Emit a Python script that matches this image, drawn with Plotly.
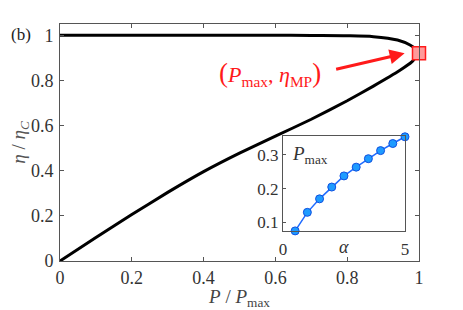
import plotly.graph_objects as go

# Main loop: lower branch (P/Pmax, eta/etaC)
lower_p = [0.0, 0.1, 0.2, 0.3, 0.4, 0.5, 0.6, 0.7, 0.8, 0.873, 0.947, 0.98, 1.0]
lower_eta = [0.0, 0.104, 0.206, 0.304, 0.396, 0.478, 0.553, 0.628, 0.71, 0.775, 0.845, 0.882, 0.92]
# upper branch
upper_p = [0.0, 0.2, 0.4, 0.6, 0.7, 0.8, 0.873, 0.94, 0.975, 0.994, 1.0]
upper_eta = [1.0, 1.0, 1.0, 1.0, 0.999, 0.998, 0.994, 0.979, 0.957, 0.935, 0.92]
# max-power point
mp_p = [1.0]
mp_eta = [0.92]
# inset: Pmax vs alpha
alpha = [0.5, 1.0, 1.5, 2.0, 2.5, 3.0, 3.5, 4.0, 4.5, 5.0]
pmax = [0.075, 0.130, 0.170, 0.205, 0.238, 0.264, 0.289, 0.313, 0.334, 0.354]

main_ticks = [0, 0.2, 0.4, 0.6, 0.8, 1]
main_ticktext = ["0", "0.2", "0.4", "0.6", "0.8", "1"]
inset_yticks = [0.1, 0.2, 0.3]
inset_xticks = [0, 5]

FONT = "Liberation Serif"
AX = "#555555"

fig = go.Figure()
fig.add_trace(go.Scatter(x=lower_p, y=lower_eta, mode="lines",
                         line=dict(color="black", width=3, shape="spline", smoothing=0.4), showlegend=False))
fig.add_trace(go.Scatter(x=upper_p, y=upper_eta, mode="lines",
                         line=dict(color="black", width=3, shape="spline", smoothing=0.8), showlegend=False))
fig.add_trace(go.Scatter(x=mp_p, y=mp_eta, mode="markers", cliponaxis=False,
                         marker=dict(symbol="square", size=13, color="#ff9a9a", line=dict(color="#ff1a1a", width=1.5)), showlegend=False))
fig.add_trace(go.Scatter(x=alpha, y=pmax, mode="lines+markers", xaxis="x2", yaxis="y2", cliponaxis=False,
                         line=dict(color="#1f6bff", width=1.5),
                         marker=dict(size=8, color="#1e9bff", line=dict(color="#1050e0", width=1)), showlegend=False))

fig.update_layout(
    width=455, height=302,
    margin=dict(l=52, r=44, t=16, b=49, autoexpand=False),
    paper_bgcolor="white", plot_bgcolor="white",
    font=dict(family=FONT, size=18, color="#333333"),
    xaxis=dict(range=[0, 1], tickvals=main_ticks, ticktext=main_ticktext, ticks="inside", ticklen=4,
               tickcolor=AX, showline=True, linecolor=AX, linewidth=1, mirror="ticks", showgrid=False,
               zeroline=False, automargin=False, ticklabelstandoff=0,
               title=dict(text="<i>P</i> / <i>P</i><sub>max</sub>", standoff=0,
                          font=dict(size=19, color="#444444"))),
    yaxis=dict(range=[0, 1.05], tickvals=main_ticks, ticktext=main_ticktext, ticks="inside", ticklen=4,
               tickcolor=AX, showline=True, linecolor=AX, linewidth=1, mirror="ticks", showgrid=False,
               zeroline=False, automargin=False, ticklabelstandoff=2,
               title=dict(text="<i>η</i> / <i>η</i><sub><i>C</i></sub>", standoff=0,
                          font=dict(size=19, color="#555555"))),
    xaxis2=dict(domain=[0.621, 0.961], anchor="y2", range=[0, 5], tickvals=inset_xticks, ticks="inside",
                ticklen=3, tickcolor=AX, showline=True, linecolor=AX, mirror=True, showgrid=False,
                zeroline=False, automargin=False, ticklabelstandoff=3, tickfont=dict(size=17)),
    yaxis2=dict(domain=[0.127, 0.527], anchor="x2", range=[0.075, 0.356], tickvals=inset_yticks,
                ticks="inside", ticklen=3, tickcolor=AX, showline=True, linecolor=AX, mirror=True,
                showgrid=False, zeroline=False, automargin=False, tickfont=dict(size=17)),
    annotations=[
        dict(x=2.5, y=0.075, xref="x2", yref="y2", text="<i>α</i>", showarrow=False, yanchor="top",
             yshift=-4, font=dict(size=18, color="#333333")),
        dict(x=0.3, y=0.30, xref="x2", yref="y2", text="<i>P</i><sub>max</sub>", showarrow=False,
             xanchor="left", yanchor="middle", font=dict(size=19, color="#333333")),
        dict(x=0.585, y=0.83, xref="x", yref="y",
             text="<span style='font-size:27px'>(</span><i>P</i><sub>max</sub>, <i>η</i><sub>MP</sub><span style='font-size:27px'>)</span>",
             showarrow=False, font=dict(size=22, color="#ff1a1a")),
        dict(x=0.96, y=0.92, xref="x", yref="y", ax=0.765, ay=0.848, axref="x", ayref="y",
             text="", showarrow=True, arrowhead=2, arrowsize=1, arrowwidth=3, arrowcolor="#ff1a1a"),
        dict(x=-0.11, y=0.954, xref="paper", yref="paper", text="(b)", showarrow=False,
             xanchor="center", yanchor="middle", font=dict(size=17, color="#222222")),
    ],
)

fig.write_html("out.html")
